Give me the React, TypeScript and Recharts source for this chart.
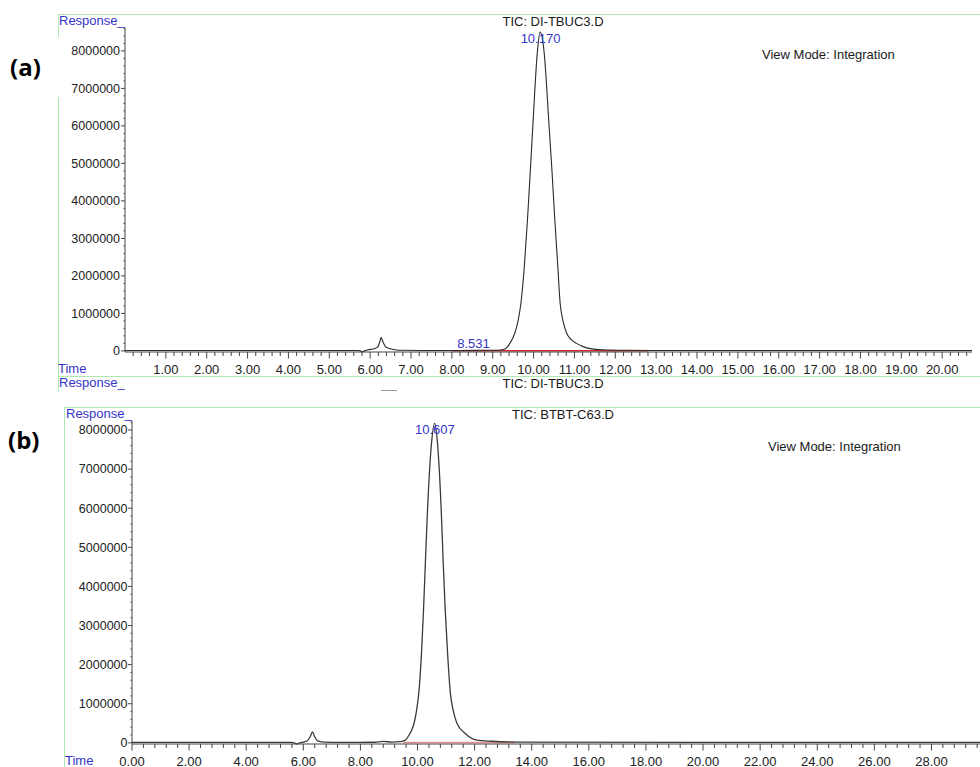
import React from 'react';
import { LineChart, Line, XAxis, YAxis, ReferenceDot } from 'recharts';

const FONT = '"Liberation Sans", Arial, Helvetica, sans-serif';
const BLUE = '#3434c8';
const GREEN = '#aee8ae';
const AXIS = '#444';

// ---- Chart (a): TIC: DI-TBUC3.D ----
const timeA = [0, 2.0, 4.0, 5.70, 5.76, 5.80, 5.86, 5.95, 6.08, 6.18, 6.24, 6.27, 6.31, 6.37, 6.45, 6.60, 6.80, 7.50, 8.20, 8.80, 9.00, 9.20, 9.30, 9.42, 9.54, 9.62, 9.69, 9.77, 9.85, 9.92, 9.99, 10.09, 10.16, 10.26, 10.37, 10.45, 10.52, 10.59, 10.65, 10.72, 10.81, 10.92, 11.05, 11.20, 11.38, 11.70, 12.30, 13.00, 16.0, 20.73];
const respA = [10000, 10000, 10000, 10000, 0, -25000, 0, 30000, 50000, 100000, 250000, 360000, 250000, 120000, 70000, 30000, 15000, 10000, 12000, 15000, 15000, 25000, 50000, 200000, 470000, 800000, 1270000, 2200000, 3490000, 4800000, 6160000, 7940000, 8500000, 7940000, 6160000, 4800000, 3490000, 2300000, 1270000, 800000, 470000, 300000, 200000, 120000, 60000, 30000, 15000, 10000, 10000, 10000];
const baselineTimeA = [8.0, 12.8];
const baselineRespA = [6000, 6000];
const majorXA = [1, 2, 3, 4, 5, 6, 7, 8, 9, 10, 11, 12, 13, 14, 15, 16, 17, 18, 19, 20];
const peakA = { t: 10.17, v: 8500000, label: '10.170' };
const peakA2 = { t: 8.531, v: 10000, label: '8.531' };

// ---- Chart (b): TIC: BTBT-C63.D ----
const timeB = [0, 3.0, 5.60, 5.72, 5.80, 5.88, 6.00, 6.15, 6.25, 6.32, 6.40, 6.50, 6.70, 7.5, 8.5, 8.8, 9.1, 9.4, 9.57, 9.72, 9.86, 9.96, 10.06, 10.14, 10.21, 10.28, 10.35, 10.49, 10.60, 10.70, 10.83, 10.90, 10.97, 11.06, 11.15, 11.26, 11.38, 11.67, 12.08, 12.60, 13.50, 20.0, 29.70];
const respB = [10000, 10000, 10000, -15000, -25000, 0, 20000, 60000, 170000, 280000, 150000, 50000, 20000, 12000, 15000, 35000, 20000, 30000, 70000, 220000, 450000, 800000, 1400000, 2300000, 3400000, 4700000, 5950000, 7660000, 8170000, 7660000, 5950000, 4600000, 3400000, 2200000, 1270000, 800000, 500000, 240000, 70000, 40000, 20000, 10000, 10000];
const baselineTimeB = [9.5, 13.4];
const baselineRespB = [6000, 6000];
const majorXB = [0, 2, 4, 6, 8, 10, 12, 14, 16, 18, 20, 22, 24, 26, 28];
const peakB = { t: 10.607, v: 8170000, label: '10.607' };

const majorY = [0, 1000000, 2000000, 3000000, 4000000, 5000000, 6000000, 7000000, 8000000];

const dataA = timeA.map((t, i) => ({ t, v: respA[i] }));
const redA = baselineTimeA.map((t, i) => ({ t, v: baselineRespA[i] }));
const dataB = timeB.map((t, i) => ({ t, v: respB[i] }));
const redB = baselineTimeB.map((t, i) => ({ t, v: baselineRespB[i] }));

const xTicksA = Array.from({ length: 103 }, (_, i) => +((i + 1) * 0.2).toFixed(2));
const xTicksB = Array.from({ length: 75 }, (_, i) => +(i * 0.4).toFixed(2));
const yTicksA = Array.from({ length: 44 }, (_, i) => i * 200000);
const yTicksB = Array.from({ length: 42 }, (_, i) => i * 200000);

function makeXTick(majors: number[]) {
  return (props: any) => {
    const { x, y, payload } = props;
    const v = payload.value as number;
    const major = majors.some((m) => Math.abs(m - v) < 1e-6);
    return (
      <g>
        <line x1={x} x2={x} y1={y} y2={y + (major ? 6.5 : 4)} stroke={AXIS} strokeWidth={1} />
        {major && (
          <text x={x} y={y + 21.5} textAnchor="middle" fontSize={13} fontFamily={FONT} fill="#222">
            {v.toFixed(2)}
          </text>
        )}
      </g>
    );
  };
}

function makeYTick(gap: number) {
  return (props: any) => {
    const { x, y, payload } = props;
    const v = payload.value as number;
    const major = majorY.includes(v);
    return (
      <g>
        <line x1={x - (major ? 4 : 1.5)} x2={x} y1={y} y2={y} stroke={AXIS} strokeWidth={1} />
        {major && (
          <text x={x - gap} y={y + 4.4} textAnchor="end" fontSize={12.5} fontFamily={FONT} fill="#222">
            {String(v)}
          </text>
        )}
      </g>
    );
  };
}

const T = ({ x, cy, children, color = '#1a1a1a', size = 13, center = false, bold = false, family = FONT }: any) => (
  <div
    style={{
      position: 'absolute',
      left: x,
      top: cy - 8,
      height: 16,
      lineHeight: '16px',
      fontSize: size,
      fontFamily: family,
      fontWeight: bold ? 700 : 400,
      color,
      whiteSpace: 'nowrap',
      transform: center ? 'translateX(-50%)' : undefined,
    }}
  >
    {children}
  </div>
);

const G = ({ l, t, w, h, c = GREEN }: any) => (
  <div style={{ position: 'absolute', left: l, top: t, width: w, height: h, background: c }} />
);

export default function App() {
  return (
    <div
      style={{
        position: 'absolute',
        left: 0,
        top: 0,
        width: 980,
        height: 767,
        overflow: 'hidden',
        background: '#fff',
        fontFamily: FONT,
      }}
    >
      {/* frames */}
      <G l={58} t={14} w={922} h={1} />
      <G l={58} t={14} w={1} h={23} />
      <G l={58} t={97} w={1} h={295} />
      <G l={58} t={376} w={922} h={1} />
      <G l={64} t={407} w={916} h={1} />
      <G l={64} t={407} w={1} h={360} />
      <G l={381} t={390} w={16} h={1} c="#999" />

      <div style={{ position: 'absolute', left: 0, top: 0 }}>
        <LineChart width={980} height={380} data={dataA} margin={{ top: 28, right: 8, bottom: 0, left: 65 }}>
          <XAxis
            type="number"
            dataKey="t"
            domain={[0, 20.73]}
            ticks={xTicksA}
            interval={0}
            height={28}
            tickSize={0}
            tickMargin={0}
            axisLine={{ stroke: AXIS }}
            tickLine={false}
            tick={makeXTick(majorXA)}
          />
          <YAxis
            type="number"
            domain={[-30000, 8610000]}
            ticks={yTicksA}
            interval={0}
            width={60}
            tickSize={0}
            tickMargin={0}
            axisLine={{ stroke: AXIS }}
            tickLine={false}
            tick={makeYTick(5)}
          />
          <Line data={redA} dataKey="v" type="linear" stroke="#d42a2a" strokeWidth={1.5} dot={false} isAnimationActive={false} />
          <Line dataKey="v" type="monotone" stroke="#2a2a2a" strokeWidth={1.1} dot={false} isAnimationActive={false} />
          <ReferenceDot
            x={peakA.t}
            y={peakA.v}
            r={0}
            stroke="none"
            label={{ value: peakA.label, position: 'bottom', offset: 2, fill: BLUE, fontSize: 13, fontFamily: FONT }}
          />
          <ReferenceDot
            x={peakA2.t}
            y={peakA2.v}
            r={0}
            stroke="none"
            label={{ value: peakA2.label, position: 'top', offset: 3, fill: BLUE, fontSize: 13, fontFamily: FONT }}
          />
        </LineChart>
      </div>

      <div style={{ position: 'absolute', left: 0, top: 380 }}>
        <LineChart width={980} height={387} data={dataB} margin={{ top: 41, right: 0, bottom: 0, left: 72 }}>
          <XAxis
            type="number"
            dataKey="t"
            domain={[0, 29.7]}
            ticks={xTicksB}
            interval={0}
            height={23}
            tickSize={0}
            tickMargin={0}
            axisLine={{ stroke: AXIS }}
            tickLine={false}
            tick={makeXTick(majorXB)}
          />
          <YAxis
            type="number"
            domain={[-30000, 8230000]}
            ticks={yTicksB}
            interval={0}
            width={60}
            tickSize={0}
            tickMargin={0}
            axisLine={{ stroke: AXIS }}
            tickLine={false}
            tick={makeYTick(4.5)}
          />
          <Line data={redB} dataKey="v" type="linear" stroke="#e88a8a" strokeWidth={1.5} dot={false} isAnimationActive={false} />
          <Line dataKey="v" type="monotone" stroke="#3a3a3a" strokeWidth={1.3} dot={false} isAnimationActive={false} />
          <ReferenceDot
            x={peakB.t}
            y={peakB.v}
            r={0}
            stroke="none"
            label={{ value: peakB.label, position: 'bottom', offset: 1, fill: BLUE, fontSize: 13, fontFamily: FONT }}
          />
        </LineChart>
      </div>

      {/* texts chart a */}
      <T x={59} cy={21} color={BLUE}>Response_</T>
      <T x={58} cy={369} color={BLUE}>Time</T>
      <T x={553} cy={22} center>TIC: DI-TBUC3.D</T>
      <T x={762} cy={55}>View Mode: Integration</T>
      <T x={10} cy={67} size={24} bold family='"Open Sans", "Noto Sans", Arial, sans-serif' color="#000">(a)</T>

      {/* middle strip */}
      <T x={59} cy={383} color={BLUE}>Response_</T>
      <T x={553} cy={384} center>TIC: DI-TBUC3.D</T>

      {/* texts chart b */}
      <T x={66} cy={414} color={BLUE}>Response_</T>
      <T x={65} cy={761} color={BLUE}>Time</T>
      <T x={563} cy={415} center>TIC: BTBT-C63.D</T>
      <T x={768} cy={447}>View Mode: Integration</T>
      <T x={8} cy={440} size={24} bold family='"Open Sans", "Noto Sans", Arial, sans-serif' color="#000">(b)</T>
    </div>
  );
}
